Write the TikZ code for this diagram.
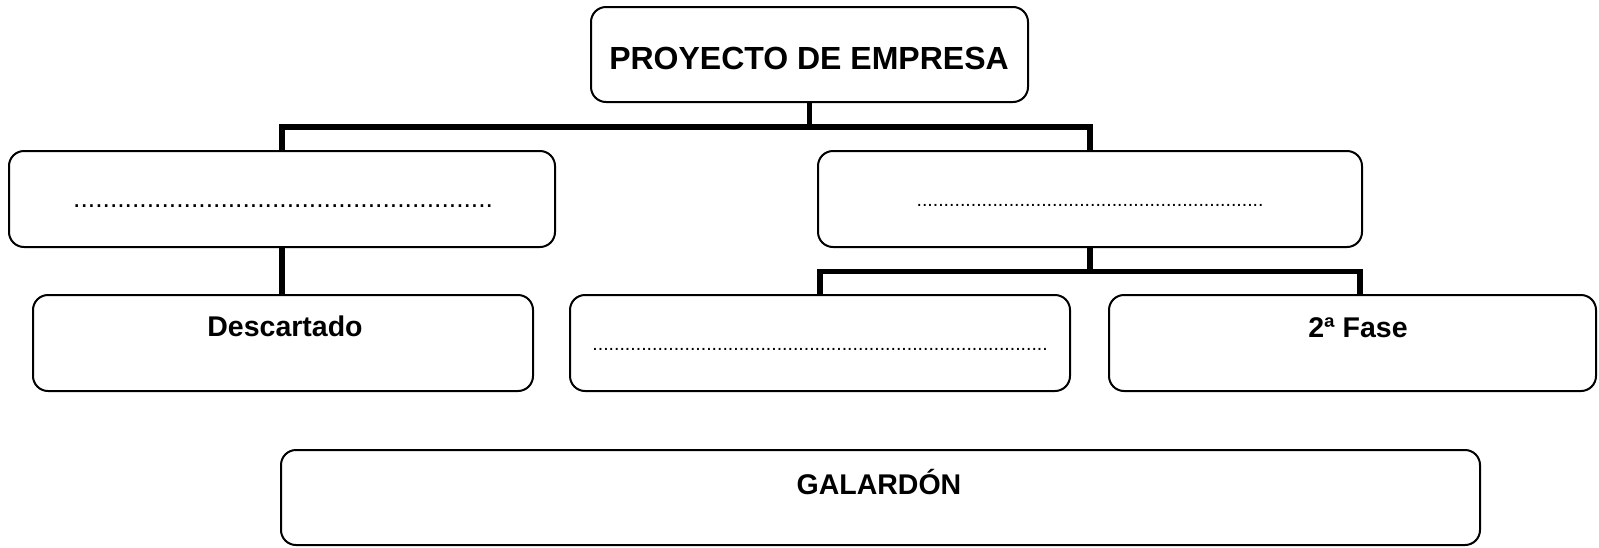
\documentclass[tikz,border=0pt]{standalone}
\usepackage{fontspec}
\setmainfont{Liberation Sans}
\usetikzlibrary{calc}
\begin{document}
\begin{tikzpicture}[x=1pt,y=-1pt,
  box/.style={draw=black,line width=2pt,rounded corners=15pt,rectangle,inner sep=0pt},
  conn/.style={draw=black,line width=5.5pt,line join=miter,line cap=butt},
  ttl/.style={font=\fontsize{32}{35}\selectfont\bfseries,inner sep=0pt},
  lbl/.style={font=\fontsize{28.5}{31}\selectfont\bfseries,inner sep=0pt},
  dotsbig/.style={font=\fontsize{26.5}{28}\selectfont,inner sep=0pt,anchor=base},
  dotssmall/.style={font=\fontsize{19.5}{21}\selectfont,inner sep=0pt,anchor=base}]
\useasboundingbox (0,0) rectangle (1599,547);
\fill[white] (0,0) rectangle (1599,547);
% boxes
\node[box,minimum width=437pt,minimum height=95pt] (top) at (809.5,54.5) {};
\node[box,minimum width=546pt,minimum height=96pt] (L1) at (282,199) {};
\node[box,minimum width=544pt,minimum height=96pt] (R1) at (1090,199) {};
\node[box,minimum width=500pt,minimum height=96pt] (desc) at (283,343) {};
\node[box,minimum width=500pt,minimum height=96pt] (mid) at (820,343) {};
\node[box,minimum width=487pt,minimum height=96pt] (fase) at (1352.5,343) {};
\node[box,minimum width=1199pt,minimum height=95pt] (gal) at (880.5,497.5) {};
% texts
\node[ttl] (ttop) at (809,58) {PROYECTO DE EMPRESA};
\node[lbl] (tdesc) at (285,326) {Descartado};
\node[lbl] (tfase) at (1358,328) {2ª Fase};
\node[lbl] (tgal) at (879,482) {GALARDÓN};
\node[dotsbig] (dL1) at (283,207) {.........................................................};
\node[dotssmall] (dR1) at (1090,206.5) {................................................................};
\node[dotssmall] (dmid) at (820,350.5) {....................................................................................};
% connectors
\coordinate (b1) at (0,127);
\coordinate (b2) at (0,271.5);
\draw[conn] (top.south) -- (top.south |- b1);
\draw[conn] (L1.north) -- (L1.north |- b1) -- (R1.north |- b1) -- (R1.north);
\draw[conn] (L1.south) -- (desc.north -| L1.south);
\draw[conn] (R1.south) -- (R1.south |- b2);
\coordinate (fN) at ($(fase.north)+(7.5,0)$);
\draw[conn] (mid.north) -- (mid.north |- b2) -- (fN |- b2) -- (fN);
\end{tikzpicture}
\end{document}
